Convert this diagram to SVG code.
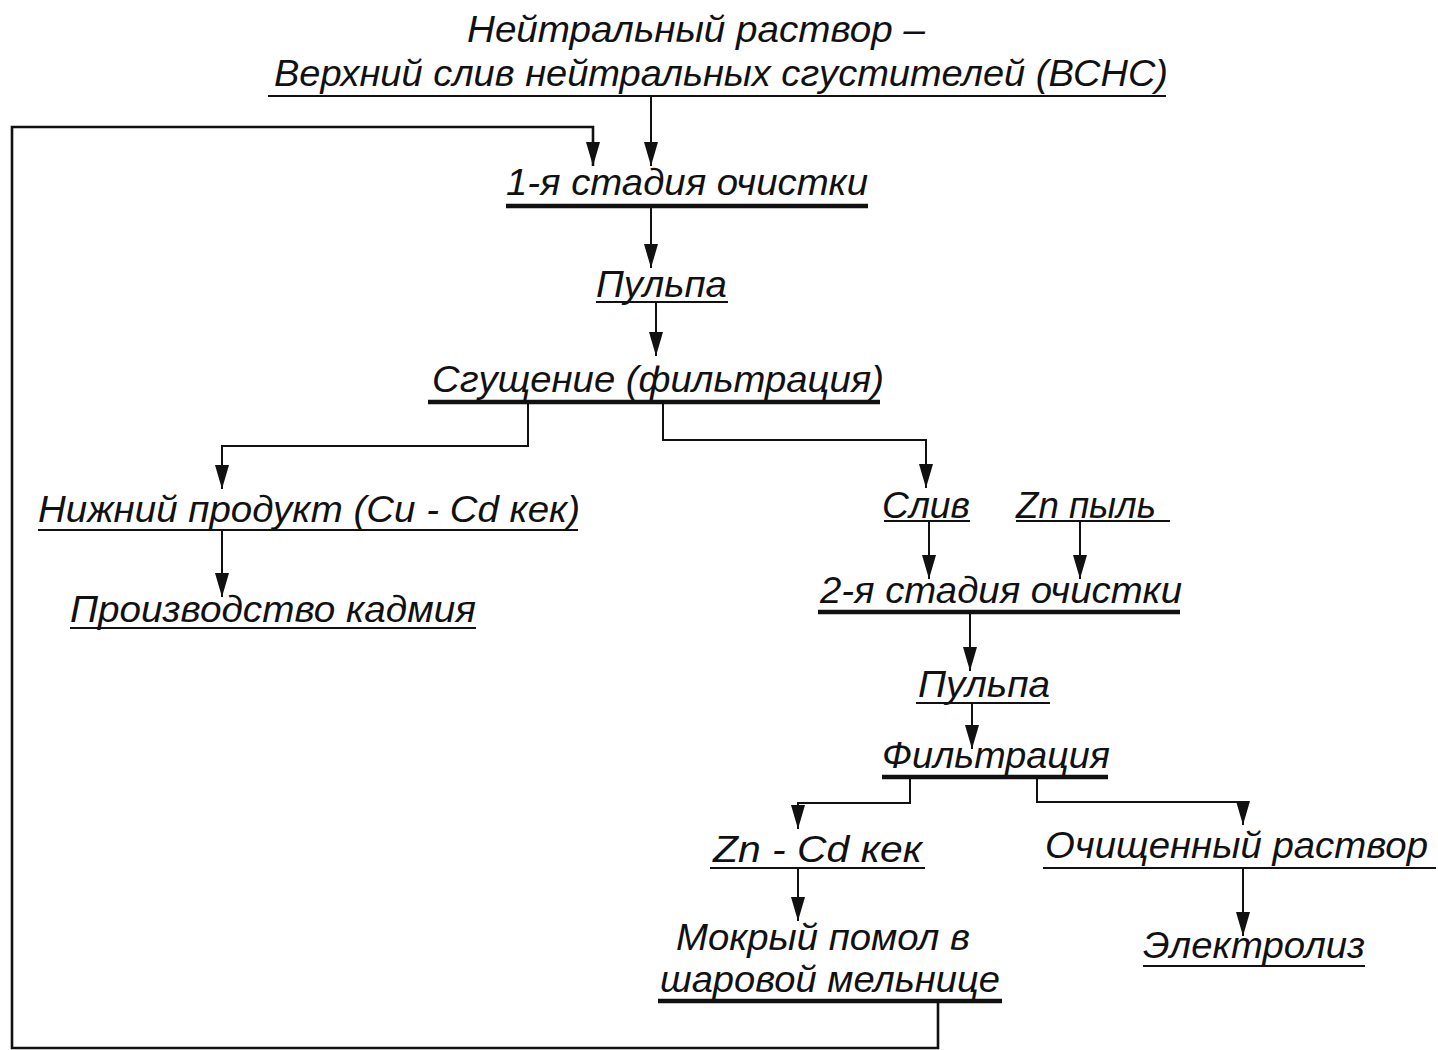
<svg xmlns="http://www.w3.org/2000/svg" width="1438" height="1050" viewBox="0 0 1438 1050">
<style>
text{font-family:"Liberation Sans",Arial,sans-serif;font-style:italic;font-size:37px;fill:#111}
.ul{stroke:#111;stroke-width:2}
.ulb{stroke:#111;stroke-width:4.5}
.c{fill:none;stroke:#111;stroke-width:2}
.loop{fill:none;stroke:#111;stroke-width:2.6}
</style>
<defs>
<marker id="a" viewBox="0 0 24 14" refX="24" refY="7" markerWidth="24" markerHeight="14" markerUnits="userSpaceOnUse" orient="auto">
<path d="M0,0 L24,7 L0,14 Z" fill="#111"/>
</marker>
</defs>
<g id="connectors">
<path class="c" d="M651,96 V166" marker-end="url(#a)"/>
<path class="loop" d="M938,1002 V1048 H12 V127 H593 V166" marker-end="url(#a)"/>
<path class="c" d="M651,208 V268" marker-end="url(#a)"/>
<path class="c" d="M656,303 V356" marker-end="url(#a)"/>
<path class="c" d="M528,404 V446 H222 V489" marker-end="url(#a)"/>
<path class="c" d="M663,404 V440 H926 V488" marker-end="url(#a)"/>
<path class="c" d="M222,531 V597" marker-end="url(#a)"/>
<path class="c" d="M929,522 V579" marker-end="url(#a)"/>
<path class="c" d="M1080,522 V579" marker-end="url(#a)"/>
<path class="c" d="M970,614 V671" marker-end="url(#a)"/>
<path class="c" d="M972,704 V749" marker-end="url(#a)"/>
<path class="c" d="M910,778 V803 H798 V829" marker-end="url(#a)"/>
<path class="c" d="M1037,778 V802 H1243 V825" marker-end="url(#a)"/>
<path class="c" d="M798,869 V921" marker-end="url(#a)"/>
<path class="c" d="M1243,869 V936" marker-end="url(#a)"/>
</g>
<g id="n-source">
<text x="467" y="42" textLength="458" lengthAdjust="spacingAndGlyphs">Нейтральный раствор –</text>
<text x="274" y="86" textLength="894" lengthAdjust="spacingAndGlyphs">Верхний слив нейтральных сгустителей (ВСНС)</text>
<line class="ul" x1="268" y1="96" x2="1166" y2="96"/>
</g>
<g id="n-stage1">
<text x="506" y="195" textLength="362" lengthAdjust="spacingAndGlyphs">1-я стадия очистки</text>
<line class="ulb" x1="506" y1="206" x2="868" y2="206"/>
</g>
<g id="n-pulp1">
<text x="596" y="297" textLength="131" lengthAdjust="spacingAndGlyphs">Пульпа</text>
<line class="ul" x1="596" y1="302" x2="728" y2="302"/>
</g>
<g id="n-thicken">
<text x="432" y="392" textLength="452" lengthAdjust="spacingAndGlyphs">Сгущение (фильтрация)</text>
<line class="ulb" x1="428" y1="402" x2="880" y2="402"/>
</g>
<g id="n-under">
<text x="38" y="522" textLength="542" lengthAdjust="spacingAndGlyphs">Нижний продукт (Cu - Cd кек)</text>
<line class="ul" x1="38" y1="530" x2="578" y2="530"/>
</g>
<g id="n-cadmium">
<text x="70" y="622" textLength="406" lengthAdjust="spacingAndGlyphs">Производство кадмия</text>
<line class="ul" x1="70" y1="628" x2="476" y2="628"/>
</g>
<g id="n-sliv">
<text x="882" y="518" textLength="88" lengthAdjust="spacingAndGlyphs">Слив</text>
<line class="ul" x1="884" y1="521" x2="970" y2="521"/>
</g>
<g id="n-zn">
<text x="1016" y="518" textLength="140" lengthAdjust="spacingAndGlyphs">Zn пыль</text>
<line class="ul" x1="1016" y1="521" x2="1170" y2="521"/>
</g>
<g id="n-stage2">
<text x="820" y="603" textLength="362" lengthAdjust="spacingAndGlyphs">2-я стадия очистки</text>
<line class="ulb" x1="818" y1="612" x2="1180" y2="612"/>
</g>
<g id="n-pulp2">
<text x="918" y="697" textLength="132" lengthAdjust="spacingAndGlyphs">Пульпа</text>
<line class="ul" x1="916" y1="703" x2="1050" y2="703"/>
</g>
<g id="n-filter">
<text x="882" y="768" textLength="228" lengthAdjust="spacingAndGlyphs">Фильтрация</text>
<line class="ulb" x1="882" y1="777" x2="1108" y2="777"/>
</g>
<g id="n-zncd">
<text x="713" y="862" textLength="209" lengthAdjust="spacingAndGlyphs">Zn - Cd  кек</text>
<line class="ul" x1="710" y1="868" x2="925" y2="868"/>
</g>
<g id="n-clean">
<text x="1045" y="858" textLength="383" lengthAdjust="spacingAndGlyphs">Очищенный раствор</text>
<line class="ul" x1="1043" y1="868" x2="1436" y2="868"/>
</g>
<g id="n-electro">
<text x="1143" y="958" textLength="222" lengthAdjust="spacingAndGlyphs">Электролиз</text>
<line class="ul" x1="1143" y1="966" x2="1365" y2="966"/>
</g>
<g id="n-mill">
<text x="676" y="950" textLength="294" lengthAdjust="spacingAndGlyphs">Мокрый помол в</text>
<text x="660" y="992" textLength="340" lengthAdjust="spacingAndGlyphs">шаровой мельнице</text>
<line class="ulb" x1="658" y1="1001" x2="1002" y2="1001"/>
</g>
</svg>
